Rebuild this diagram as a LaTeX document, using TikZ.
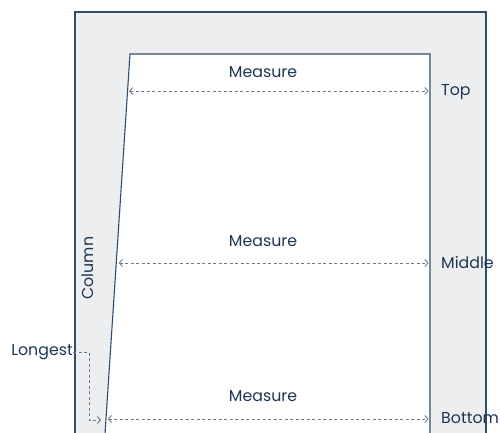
\documentclass[tikz,border=0pt]{standalone}
\usepackage{fontspec}
\setmainfont{Poppins}
\usetikzlibrary{arrows.meta,calc}
\definecolor{edge}{HTML}{2F4E6C}
\definecolor{panel}{HTML}{EDEEF0}
\definecolor{dash}{HTML}{6E7A88}
\definecolor{ink}{HTML}{1D3652}
\tikzset{
  wall/.style={draw=edge,line width=1.1pt},
  meas/.style={draw=dash,line width=0.9pt,dash pattern=on 3pt off 2.5pt,{Straight Barb[length=3pt,width=7pt]}-{Straight Barb[length=3pt,width=7pt]}},
  lead/.style={draw=dash,line width=0.9pt,dash pattern=on 3pt off 2.5pt,-{Straight Barb[length=3pt,width=7pt]}},
  lbl/.style={text=ink,font=\fontsize{15.8}{18}\selectfont,inner sep=0pt},
}
\begin{document}
\begin{tikzpicture}[x=1pt,y=-1pt]
\useasboundingbox (0,0) rectangle (500,433);
\begin{scope}
\clip (0,0) rectangle (500,433);
\fill[panel] (75,12) rectangle (486,440);
\draw[wall] (75,440) -- (75,12) -- (486,12) -- (486,440);
\fill[white] (130,54) -- (430,54) -- (430,440) -- (104.6,440) -- cycle;
\draw[wall] (104.6,440) -- (130,54) -- (430,54) -- (430,440);
\end{scope}
\coordinate (tl) at (127.6,91);
\coordinate (tr) at (430,91);
\coordinate (ml) at (117.3,263);
\coordinate (mr) at (430,263);
\coordinate (bl) at (106.4,419);
\coordinate (br) at (430,419);
\draw[meas] ($(tl)+(1.5,0)$) -- ($(tr)+(-1.5,0)$);
\draw[meas] ($(ml)+(1.5,0)$) -- ($(mr)+(-1.5,0)$);
\draw[meas] ($(bl)+(1.5,0)$) -- ($(br)+(-1.5,0)$);
\node[lbl] (m1) at (263,72) {Measure};
\node[lbl] (m2) at (263,241) {Measure};
\node[lbl] (m3) at (263,396) {Measure};
\node[lbl,anchor=west] (top) at (441,92) {Top};
\node[lbl,anchor=west] (mid) at (441,263) {Middle};
\node[lbl,anchor=west] (bot) at (441,418) {Bottom};
\node[lbl,rotate=90] (col) at (88,268) {Column};
\node[lbl,anchor=east] (lon) at (73,352) {Longest};
\coordinate (c1) at (89,352);
\coordinate (c2) at (89,420);
\coordinate (c3) at (101,420);
\draw[lead] (lon.east) -- (c1) -- (c2) -- (c3);
\end{tikzpicture}
\end{document}
